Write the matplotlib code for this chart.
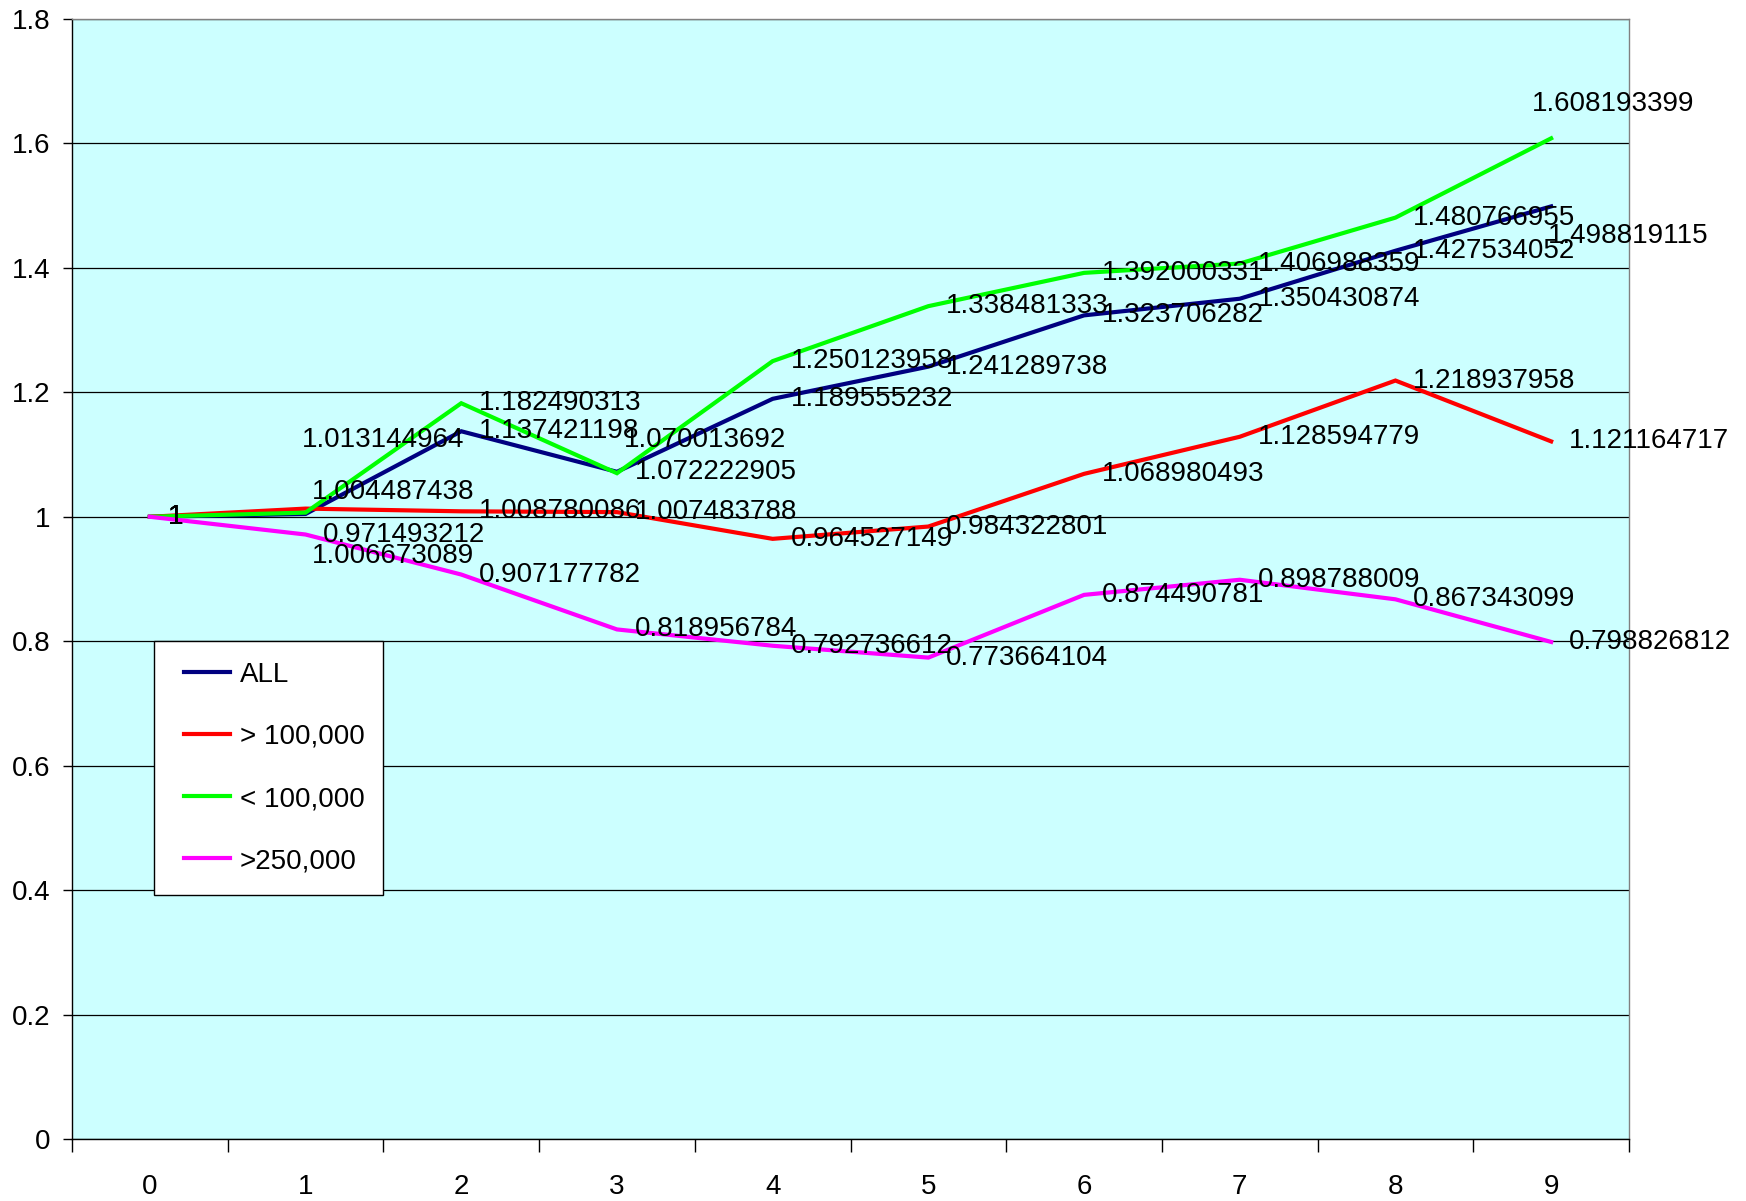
import matplotlib
matplotlib.use("Agg")
import matplotlib.pyplot as plt
import numpy as np
from matplotlib.ticker import FuncFormatter
from matplotlib.legend_handler import HandlerLine2D

plt.rcParams['font.family'] = ['Liberation Sans', 'DejaVu Sans']

categories = [0, 1, 2, 3, 4, 5, 6, 7, 8, 9]
series_names = ["ALL", "> 100,000", "< 100,000", ">250,000"]
all_vals = [1, 1.004487438, 1.137421198, 1.072222905, 1.189555232, 1.241289738,
            1.323706282, 1.350430874, 1.427534052, 1.498819115]
gt100k = [1, 1.013144964, 1.008780086, 1.007483788, 0.964527149, 0.984322801,
          1.068980493, 1.128594779, 1.218937958, 1.121164717]
lt100k = [1, 1.006673089, 1.182490313, 1.070013692, 1.250123958, 1.338481333,
          1.392000331, 1.406988359, 1.480766955, 1.608193399]
gt250k = [1, 0.971493212, 0.907177782, 0.818956784, 0.792736612, 0.773664104,
          0.874490781, 0.898788009, 0.867343099, 0.798826812]
y_ticks = [0, 0.2, 0.4, 0.6, 0.8, 1.0, 1.2, 1.4, 1.6, 1.8]

colors = ["#000080", "#FF0000", "#00FF00", "#FF00FF"]
data = [all_vals, gt100k, lt100k, gt250k]

# label offsets (points) for manually moved data labels: (series index, point index) -> (dx, dy)
default_off = (12.8, 0)
special_off = {
    (0, 1): (4.8, 15.7),
    (0, 9): (-2.4, -21.6),
    (1, 1): (-2.4, 49.6),
    (2, 1): (4.8, -31.0),
    (2, 3): (4.8, 24.0),
    (2, 9): (-13.6, 24.8),
}


class ShiftedLine(HandlerLine2D):
    def get_xdata(self, legend, xdescent, ydescent, width, height, fontsize):
        xd, xm = super().get_xdata(legend, xdescent, ydescent, width, height, fontsize)
        xd = np.array(xd, dtype=float)
        xd[0] = xd[0] + 0.16 * width
        return xd, xm


fig = plt.figure(figsize=(17.46, 12.01), dpi=100)
ax = fig.add_axes([72/1746, 62/1201, (1629-72)/1746, (1139-19)/1201])
ax.set_facecolor("#CCFFFF")

FS = 20
x = np.array(categories)
for si, (vals, col, name) in enumerate(zip(data, colors, series_names)):
    ax.plot(x, vals, color=col, lw=3.0, label=name, zorder=3, solid_joinstyle='miter')

for si, vals in enumerate(data):
    for i, v in enumerate(vals):
        dx, dy = special_off.get((si, i), default_off)
        txt = "%.10g" % v
        ax.annotate(txt, (x[i], v), xytext=(dx, dy), textcoords='offset points',
                    ha='left', va='center', fontsize=FS, color='black', zorder=5)

ax.set_xlim(-0.5, 9.5)
ax.set_ylim(0, 1.8)
ax.set_yticks(y_ticks)
ax.yaxis.set_major_formatter(FuncFormatter(lambda v, p: "%g" % round(v, 2)))
ax.set_xticks(x)
ax.set_xticklabels([str(c) for c in categories])
ax.set_xticks(np.arange(-0.5, 10, 1), minor=True)
ax.tick_params(axis='x', which='major', length=0, pad=25, labelsize=FS)
ax.tick_params(axis='x', which='minor', length=9, width=1, direction='out', color='black')
ax.tick_params(axis='y', which='major', length=6.5, width=1, direction='out', pad=9, labelsize=FS)

ax.set_axisbelow(True)
ax.yaxis.grid(True, color='black', lw=0.9)
ax.xaxis.grid(False)

for s in ['left', 'bottom']:
    ax.spines[s].set_color('black')
    ax.spines[s].set_linewidth(1.0)
ax.spines['right'].set_color('#808080')
ax.spines['top'].set_color('#808080')
ax.spines['right'].set_linewidth(1.0)
ax.spines['top'].set_linewidth(1.0)

leg = ax.legend(loc='upper left', bbox_to_anchor=(0.0527, 0.4446, 0.147, 0.0),
                mode='expand', fontsize=FS, frameon=True, fancybox=False, framealpha=1,
                edgecolor='black', handlelength=2.0, handletextpad=0.33,
                labelspacing=1.3, borderpad=0.75, borderaxespad=0,
                handler_map={plt.Line2D: ShiftedLine()})
leg.get_frame().set_linewidth(1.0)
for line in leg.get_lines():
    line.set_linewidth(3.0)

fig.savefig("out.png", dpi=100, facecolor='white')
